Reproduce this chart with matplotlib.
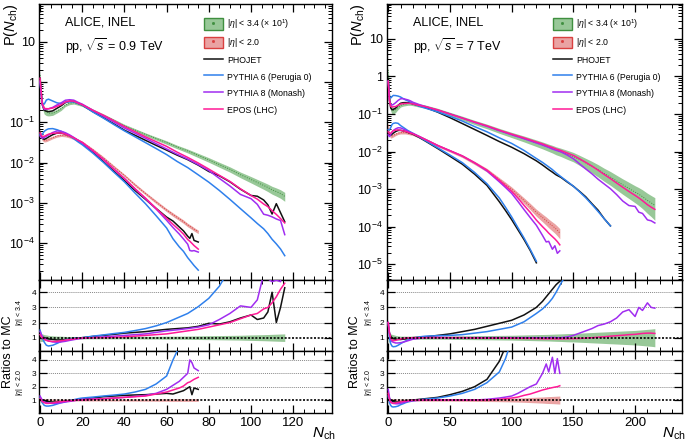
import numpy as np
import matplotlib
matplotlib.use('Agg')
import matplotlib.pyplot as plt
from matplotlib.ticker import FuncFormatter, MultipleLocator, LogLocator, FixedLocator, NullFormatter
from matplotlib.patches import Patch
from matplotlib.lines import Line2D

plt.rcParams['font.family'] = ['Liberation Sans', 'DejaVu Sans']
plt.rcParams['mathtext.fontset'] = 'custom'
plt.rcParams['mathtext.rm'] = 'Liberation Sans'
plt.rcParams['mathtext.it'] = 'Liberation Sans:italic'
plt.rcParams['mathtext.bf'] = 'Liberation Sans:bold'

nan = np.nan
SCALE_ETA34 = 10.0

# ---------------- 0.9 TeV, |eta| < 3.4 ----------------
N_09_eta34 = [0, 1, 2, 3, 4, 6, 8, 10, 12, 14, 16, 18, 20, 25, 30, 35, 40, 45, 50, 55, 60, 65, 70,
              75, 80, 85, 90, 95, 100, 103, 106, 108, 110, 112, 114, 116]
data_09_eta34 = [0.15, 0.030, 0.020, 0.018, 0.017, 0.017, 0.019, 0.022, 0.027, 0.030, 0.031, 0.029, 0.027,
                 0.020, 0.0151, 0.0112, 0.0083, 0.00646, 0.00501, 0.00398, 0.00316, 0.00245, 0.00195,
                 0.00151, 0.00117, 0.00089, 0.00068, 0.00050, 0.00038, 0.00032, 0.00027, 0.00024,
                 0.00021, 0.00019, 0.00017, 0.000145]
err_09_eta34 = [0.25, 0.25, 0.2, 0.18, 0.15, 0.12, 0.1, 0.1, 0.08, 0.08, 0.08, 0.08, 0.08,
                0.08, 0.08, 0.08, 0.08, 0.08, 0.09, 0.09, 0.1, 0.1, 0.11,
                0.12, 0.13, 0.14, 0.15, 0.16, 0.18, 0.19, 0.2, 0.21, 0.22, 0.23, 0.24, 0.25]
ratio_09_eta34_phojet = [1.2, 1.05, 1.0, 0.95, 0.92, 0.88, 0.85, 0.85, 0.87, 0.9, 0.93, 0.97, 1.0,
                         1.08, 1.15, 1.22, 1.3, 1.35, 1.4, 1.48, 1.55, 1.6, 1.65, 1.75, 1.95, 1.9,
                         2.05, 2.3, 2.5, 2.2, 2.3, 2.7, 4.0, 2.0, 3.0, 4.3]
ratio_09_eta34_pythia6 = [1.5, 1.0, 0.7, 0.5, 0.45, 0.5, 0.62, 0.75, 0.85, 0.92, 0.96, 0.98, 1.0,
                          1.1, 1.18, 1.27, 1.35, 1.47, 1.6, 1.78, 2.0, 2.3, 2.6, 3.05, 3.6, 4.4,
                          5.6, 7.0, 9.0, 10.5, 12.0, 14.0, 17.0, 20.0, 24.0, 30.0]
ratio_09_eta34_pythia8 = [1.4, 1.1, 0.95, 0.85, 0.78, 0.72, 0.7, 0.72, 0.76, 0.82, 0.87, 0.92, 0.95,
                          1.0, 1.05, 1.1, 1.15, 1.2, 1.25, 1.35, 1.45, 1.52, 1.6, 1.7, 1.85, 2.2,
                          2.6, 3.1, 3.0, 3.5, 5.2, 4.9, 4.7, 4.8, 4.7, 9.0]
ratio_09_eta34_epos = [1.2, 1.0, 0.9, 0.82, 0.78, 0.75, 0.76, 0.8, 0.84, 0.88, 0.92, 0.96, 0.98,
                       1.0, 1.0, 1.02, 1.05, 1.1, 1.15, 1.2, 1.25, 1.35, 1.45, 1.55, 1.7, 1.85,
                       2.0, 2.25, 2.5, 2.6, 2.9, 3.0, 3.3, 3.7, 4.2, 4.6]

# ---------------- 0.9 TeV, |eta| < 2.0 ----------------
N_09_eta20 = [0, 1, 2, 3, 4, 6, 8, 10, 12, 14, 16, 18, 20, 25, 30, 35, 40, 45, 50, 55, 60,
              63, 66, 68, 70, 71, 72, 73, 75]
data_09_eta20 = [0.06, 0.04, 0.036, 0.036, 0.038, 0.042, 0.046, 0.048, 0.047, 0.044, 0.040, 0.036, 0.032,
                 0.021, 0.0132, 0.0079, 0.0048, 0.0028, 0.0017, 0.00105, 0.00066,
                 0.00051, 0.00040, 0.00034, 0.00028, 0.00026, 0.00024, 0.00022, 0.00019]
err_09_eta20 = [0.15, 0.12, 0.1, 0.08, 0.08, 0.07, 0.07, 0.07, 0.07, 0.07, 0.07, 0.07, 0.07,
                0.07, 0.07, 0.07, 0.07, 0.08, 0.08, 0.09, 0.09,
                0.1, 0.1, 0.1, 0.1, 0.1, 0.1, 0.1, 0.1]
ratio_09_eta20_phojet = [1.1, 1.0, 0.95, 0.9, 0.88, 0.85, 0.85, 0.88, 0.92, 0.95, 0.98, 1.02, 1.05,
                         1.15, 1.25, 1.3, 1.35, 1.38, 1.4, 1.45, 1.5,
                         1.45, 1.6, 1.7, 1.9, 2.0, 1.4, 1.9, 1.8]
ratio_09_eta20_pythia6 = [1.2, 0.8, 0.6, 0.55, 0.55, 0.6, 0.7, 0.8, 0.88, 0.95, 1.02, 1.1, 1.15,
                          1.22, 1.3, 1.37, 1.45, 1.6, 1.8, 2.2, 2.8,
                          4.0, 5.0, 5.5, 6.5, 7.0, 7.5, 8.0, 9.0]
ratio_09_eta20_pythia8 = [1.3, 1.0, 0.85, 0.8, 0.78, 0.75, 0.75, 0.8, 0.85, 0.9, 0.95, 1.0, 1.05,
                          1.08, 1.1, 1.15, 1.2, 1.27, 1.35, 1.5, 1.8,
                          2.1, 2.4, 2.7, 3.0, 4.0, 3.8, 3.4, 3.2]
ratio_09_eta20_epos = [1.1, 0.9, 0.8, 0.75, 0.75, 0.78, 0.85, 0.88, 0.92, 0.95, 0.97, 1.0, 1.0,
                       1.05, 1.1, 1.15, 1.2, 1.25, 1.3, 1.45, 1.6,
                       1.75, 1.9, 2.05, 2.3, 2.35, 2.45, 2.55, 2.7]

# ---------------- 7 TeV, |eta| < 3.4 ----------------
N_7_eta34 = [0, 1, 2, 3, 4, 6, 8, 10, 12, 14, 16, 18, 20, 25, 30, 40, 50, 60, 70, 80, 90, 100, 110, 120,
             125, 130, 133, 136, 140, 145, 150, 155, 160, 165, 170, 175, 180, 185, 190, 195, 200,
             203, 206, 210, 213, 216]
data_7_eta34 = [0.15, 0.03, 0.016, 0.013, 0.0125, 0.013, 0.015, 0.017, 0.018, 0.0185, 0.019, 0.019, 0.0185,
                0.017, 0.0158, 0.0129, 0.0100, 0.0078, 0.0060, 0.0047, 0.0036, 0.0028, 0.0022, 0.0017,
                0.00149, 0.00129, 0.00119, 0.00108, 0.00098, 0.00085, 0.00074, 0.00061, 0.00050, 0.00041,
                0.00033, 0.00026, 0.00021, 0.000165, 0.00013, 0.000104, 0.000083,
                0.000073, 0.000063, 0.000050, 0.000043, 0.000037]
err_7_eta34 = [0.3, 0.28, 0.25, 0.22, 0.2, 0.15, 0.12, 0.1, 0.1, 0.1, 0.1, 0.1, 0.1,
               0.1, 0.1, 0.1, 0.11, 0.12, 0.13, 0.14, 0.15, 0.16, 0.18, 0.2,
               0.21, 0.22, 0.23, 0.24, 0.25, 0.27, 0.28, 0.3, 0.32, 0.34, 0.36, 0.38, 0.4, 0.42, 0.44, 0.46, 0.48,
               0.5, 0.52, 0.55, 0.57, 0.6]
ratio_7_eta34_phojet = [1.8, 1.3, 1.1, 1.0, 0.95, 0.9, 0.88, 0.88, 0.9, 0.92, 0.95, 0.97, 1.0,
                        1.02, 1.05, 1.15, 1.25, 1.4, 1.55, 1.75, 1.95, 2.15, 2.5, 3.0,
                        3.4, 3.9, 4.2, 4.5, 4.8, 5.5, 6.2, 7.0, 8.0, 10.0, 12.0, 16.0, 20.0,
                        nan, nan, nan, nan, nan, nan, nan, nan, nan]
ratio_7_eta34_pythia6 = [2.0, 1.0, 0.6, 0.45, 0.4, 0.42, 0.5, 0.6, 0.7, 0.78, 0.85, 0.92, 0.97,
                         1.05, 1.1, 1.13, 1.15, 1.2, 1.3, 1.4, 1.55, 1.7, 2.05, 2.6,
                         2.9, 3.3, 3.6, 4.0, 4.6, 5.3, 6.2, 7.2, 8.5, 10.5, 13.0, 16.0, 20.0,
                         nan, nan, nan, nan, nan, nan, nan, nan, nan]
ratio_7_eta34_pythia8 = [2.0, 1.3, 0.9, 0.75, 0.7, 0.65, 0.65, 0.67, 0.7, 0.75, 0.8, 0.85, 0.9,
                         0.95, 1.0, 1.02, 1.0, 1.0, 1.0, 1.0, 1.0, 1.0, 1.0, 1.0,
                         1.0, 1.0, 1.02, 1.0, 1.0, 1.05, 1.15, 1.3, 1.45, 1.6, 1.8, 1.9, 2.05, 2.3, 2.7, 2.85, 2.4,
                         3.0, 2.8, 3.3, 3.0, 2.95]
ratio_7_eta34_epos = [2.0, 1.3, 1.0, 0.85, 0.8, 0.82, 0.88, 0.92, 0.95, 0.97, 0.98, 0.99, 1.0,
                      1.0, 1.0, 1.0, 1.0, 1.0, 0.98, 0.97, 0.97, 0.96, 0.95, 0.94,
                      0.93, 0.93, 0.93, 0.92, 0.92, 0.93, 0.94, 0.95, 0.97, 1.0, 1.03, 1.06, 1.1, 1.13, 1.16, 1.2, 1.22,
                      1.25, 1.28, 1.3, 1.3, 1.28]

# ---------------- 7 TeV, |eta| < 2.0 ----------------
N_7_eta20 = [0, 1, 2, 3, 4, 6, 8, 10, 12, 14, 16, 18, 20, 25, 30, 40, 50, 60, 70, 80, 90,
             95, 100, 105, 110, 115, 120, 125, 128, 130, 133, 135, 137, 139]
data_7_eta20 = [0.05, 0.03, 0.026, 0.026, 0.027, 0.029, 0.031, 0.032, 0.032, 0.032, 0.031, 0.030, 0.029,
                0.025, 0.021, 0.0145, 0.0105, 0.0076, 0.0050, 0.0032, 0.0018,
                0.00135, 0.0010, 0.00071, 0.00050, 0.00035, 0.00024, 0.000175,
                0.000145, 0.000126, 0.000105, 0.000093, 0.000080, 0.000068]
err_7_eta20 = [0.2, 0.15, 0.12, 0.1, 0.1, 0.08, 0.08, 0.08, 0.08, 0.08, 0.08, 0.08, 0.08,
               0.08, 0.08, 0.08, 0.08, 0.09, 0.1, 0.11, 0.12,
               0.13, 0.14, 0.15, 0.17, 0.19, 0.21, 0.23, 0.25, 0.26, 0.27, 0.28, 0.29, 0.3]
ratio_7_eta20_phojet = [1.5, 1.1, 0.95, 0.9, 0.88, 0.85, 0.85, 0.87, 0.9, 0.93, 0.96, 0.98, 1.0,
                        1.05, 1.1, 1.2, 1.4, 1.65, 2.0, 2.55, 3.9,
                        5.0, 6.5, 8.5, 11.0, 15.0, 22.0, nan, nan, nan, nan, nan, nan, nan]
ratio_7_eta20_pythia6 = [1.3, 0.8, 0.6, 0.5, 0.48, 0.5, 0.55, 0.65, 0.72, 0.8, 0.86, 0.9, 0.95,
                         1.02, 1.07, 1.15, 1.3, 1.5, 1.8, 2.3, 3.1,
                         4.1, 5.5, 7.5, 10.0, 14.0, 20.0, nan, nan, nan, nan, nan, nan, nan]
ratio_7_eta20_pythia8 = [1.8, 1.2, 0.9, 0.8, 0.75, 0.72, 0.72, 0.75, 0.8, 0.85, 0.9, 0.93, 0.95,
                         0.98, 1.0, 1.0, 1.0, 1.0, 1.0, 1.05, 1.15,
                         1.22, 1.3, 1.5, 1.75, 2.0, 2.2, 3.0, 3.7, 3.1, 4.2, 3.0, 4.1, 3.0]
ratio_7_eta20_epos = [1.5, 1.0, 0.85, 0.78, 0.75, 0.78, 0.82, 0.87, 0.9, 0.93, 0.95, 0.97, 0.98,
                      1.0, 1.0, 1.0, 1.0, 1.0, 1.0, 1.0, 1.05,
                      1.1, 1.15, 1.22, 1.35, 1.45, 1.6, 1.75, 1.82, 1.87, 1.93, 1.97, 2.0, 2.07]

models = ['PHOJET', 'PYTHIA 6 (Perugia 0)', 'PYTHIA 8 (Monash)', 'EPOS (LHC)']
model_colors = ['#111111', '#2f80ec', '#a02df0', '#ff1a96']

GREEN_FILL = '#98c898'
GREEN_EDGE = '#3f8f3f'
RED_FILL = '#eaa3a3'
RED_EDGE = '#d94040'

W, H = 685, 446
fig = plt.figure(figsize=(W / 100, H / 100), dpi=100)


def fx(px):
    return px / W


def fy(py):
    return 1 - py / H


def add_ax(x0, x1, y0, y1):
    return fig.add_axes([fx(x0), fy(y1), (x1 - x0) / W, (y1 - y0) / H])


def logfmt(v, pos):
    e = int(round(np.log10(v)))
    if e == 0:
        return '1'
    if e == 1:
        return '10'
    return r'$10^{%d}$' % e


columns = [
    dict(x0=39, x1=332, xlim=(-0.5, 138.4), ylim=(1.2e-5, 88), major=20, minor=5, energy='0.9',
         N34=N_09_eta34, d34=data_09_eta34, e34=err_09_eta34,
         r34=[ratio_09_eta34_phojet, ratio_09_eta34_pythia6, ratio_09_eta34_pythia8, ratio_09_eta34_epos],
         N20=N_09_eta20, d20=data_09_eta20, e20=err_09_eta20,
         r20=[ratio_09_eta20_phojet, ratio_09_eta20_pythia6, ratio_09_eta20_pythia8, ratio_09_eta20_epos],
         ylab_x=11, rat_x=8, sub_x=19.5),
    dict(x0=387, x1=682, xlim=(-1, 238), ylim=(3.8e-6, 85), major=50, minor=10, energy='7',
         N34=N_7_eta34, d34=data_7_eta34, e34=err_7_eta34,
         r34=[ratio_7_eta34_phojet, ratio_7_eta34_pythia6, ratio_7_eta34_pythia8, ratio_7_eta34_epos],
         N20=N_7_eta20, d20=data_7_eta20, e20=err_7_eta20,
         r20=[ratio_7_eta20_phojet, ratio_7_eta20_pythia6, ratio_7_eta20_pythia8, ratio_7_eta20_epos],
         ylab_x=358, rat_x=355.5, sub_x=368),
]

for c in columns:
    axm = add_ax(c['x0'], c['x1'], 4, 280)
    ax1 = add_ax(c['x0'], c['x1'], 280, 351)
    ax2 = add_ax(c['x0'], c['x1'], 351, 413)

    N34 = np.array(c['N34'], float)
    d34 = np.array(c['d34']) * SCALE_ETA34
    e34 = np.array(c['e34'])
    N20 = np.array(c['N20'], float)
    d20 = np.array(c['d20'])
    e20 = np.array(c['e20'])

    # main panel
    axm.set_yscale('log')
    axm.fill_between(N34, d34 * (1 - e34), d34 * (1 + e34), color=GREEN_FILL, lw=0, zorder=1)
    axm.plot(N34, d34, color=GREEN_EDGE, ls=(0, (1, 1.5)), lw=0.7, zorder=2)
    axm.fill_between(N20, d20 * (1 - e20), d20 * (1 + e20), color=RED_FILL, lw=0, zorder=1)
    axm.plot(N20, d20, color=RED_EDGE, ls=(0, (1, 1.5)), lw=0.7, zorder=2)
    for r34, r20, col in zip(c['r34'], c['r20'], model_colors):
        axm.plot(N34, d34 / np.array(r34), color=col, lw=1.1, zorder=3)
        axm.plot(N20, d20 / np.array(r20), color=col, lw=1.1, zorder=3)
    axm.set_ylim(*c['ylim'])
    axm.yaxis.set_major_locator(LogLocator(base=10, numticks=20))
    axm.yaxis.set_minor_locator(LogLocator(base=10, subs=np.arange(2, 10), numticks=20))
    axm.yaxis.set_major_formatter(FuncFormatter(logfmt))
    axm.yaxis.set_minor_formatter(NullFormatter())

    # ratio panels
    for ax, N, e, rr, fill in ((ax1, N34, e34, c['r34'], GREEN_FILL), (ax2, N20, e20, c['r20'], RED_FILL)):
        ax.fill_between(N, 1 - e, 1 + e, color=fill, lw=0, zorder=1)
        for yv in (2, 3, 4):
            ax.axhline(yv, color='#888888', ls=(0, (1, 1)), lw=0.7, zorder=0)
        for r, col in zip(rr, model_colors):
            ax.plot(N, r, color=col, lw=1.1, zorder=3)
        ax.axhline(1, color='black', ls=(0, (1.2, 1)), lw=1.2, zorder=4)
        ax.yaxis.set_major_locator(FixedLocator([1, 2, 3, 4]))
        ax.tick_params(axis='y', labelsize=6, pad=2)
    ax1.set_ylim(0.12, 4.81)
    ax2.set_ylim(0.03, 4.67)

    for ax in (axm, ax1, ax2):
        ax.set_xlim(*c['xlim'])
        ax.xaxis.set_major_locator(MultipleLocator(c['major']))
        ax.xaxis.set_minor_locator(MultipleLocator(c['minor']))
        ax.tick_params(which='both', direction='in', top=True, right=True)
        ax.tick_params(which='major', length=6, width=0.9)
        ax.tick_params(which='minor', length=3, width=0.7)
        for s in ax.spines.values():
            s.set_linewidth(1.0)
    axm.tick_params(axis='y', labelsize=9, pad=3)
    axm.tick_params(axis='x', labelbottom=False)
    ax1.tick_params(axis='x', labelbottom=False)
    ax2.tick_params(axis='x', labelsize=9.5, pad=3)

    # texts
    axm.text(0.089, 0.955, 'ALICE, INEL', transform=axm.transAxes, fontsize=9, va='top', ha='left')
    axm.text(0.089, 0.882, r'pp, $\sqrt{s}$ = %s TeV' % c['energy'], transform=axm.transAxes,
             fontsize=9, va='top', ha='left')

    h_g = (Patch(facecolor=GREEN_FILL, edgecolor=GREEN_EDGE, lw=1.0),
           Line2D([], [], marker='s', ms=1, color=GREEN_EDGE, ls=''))
    h_r = (Patch(facecolor=RED_FILL, edgecolor=RED_EDGE, lw=1.0),
           Line2D([], [], marker='s', ms=1, color=RED_EDGE, ls=''))
    handles = [h_g, h_r] + [Line2D([], [], color=col, lw=1.1) for col in model_colors]
    labels = [r'$|\eta|$ < 3.4 ($\times$ 10$^{1}$)', r'$|\eta|$ < 2.0'] + models
    axm.legend(handles, labels, loc='upper left', bbox_to_anchor=(0.562, 0.952), frameon=False,
               fontsize=6.3, handlelength=2.2, handleheight=1.63, labelspacing=0.6,
               handletextpad=0.5, borderpad=0, borderaxespad=0)

    fig.text(fx(c['ylab_x']), fy(4), r'P($N_{\rm ch}$)', rotation=90, ha='center', va='top', fontsize=10.5)
    fig.text(fx(c['rat_x']), fy(352), 'Ratios to MC', rotation=90, ha='center', va='center', fontsize=9)
    fig.text(fx(c['sub_x']), fy(312), r'$|\eta|$ < 3.4', rotation=90, ha='center', va='center', fontsize=5)
    fig.text(fx(c['sub_x']), fy(383), r'$|\eta|$ < 2.0', rotation=90, ha='center', va='center', fontsize=5)
    fig.text(fx(c['x1'] + 4), fy(438), r'$N_{\rm ch}$', ha='right', va='baseline', fontsize=11)

fig.savefig('out.png', dpi=100)
